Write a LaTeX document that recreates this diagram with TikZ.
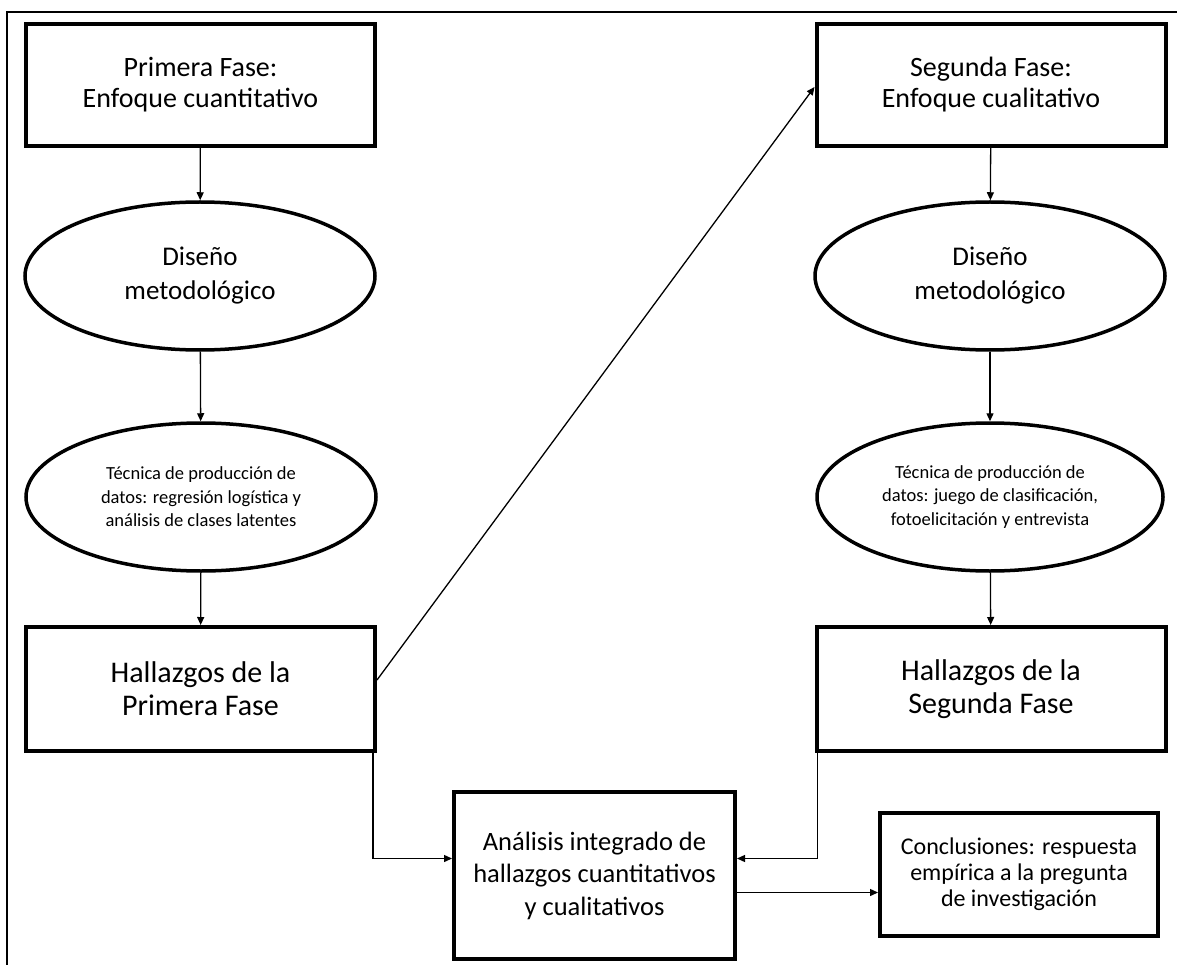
\documentclass[tikz,border=0pt]{standalone}
\usepackage{fontspec}
\setmainfont{Carlito}
\usetikzlibrary{arrows.meta, positioning, shapes.geometric, calc}
\tikzset{
  box/.style    = {draw, line width=4pt, minimum width=349pt, minimum height=122pt,
                   align=center, inner sep=0pt, font=\fontsize{28}{31}\selectfont},
  oval/.style   = {ellipse, draw, line width=3.5pt, minimum width=350pt, minimum height=148pt,
                   align=center, inner sep=0pt, font=\fontsize{27}{34}\selectfont},
  soval/.style  = {oval, font=\fontsize{18.5}{23.5}\selectfont},
  arrow/.style  = {-{Triangle[length=8pt,width=7pt]}, line width=1.3pt},
}

\begin{document}
\begin{tikzpicture}[x=1pt, y=-1pt]
  \useasboundingbox (0,0) rectangle (1177,965);

  % frame
  \draw[line width=2pt] (7,965) -- (7,12) -- (1177,12);

  % first phase
  \node[box] (p1) at (200.5,85) {Primera Fase:\\Enfoque cuantitativo};
  \node[oval] (d1) at (200,276) {Diseño\\metodológico};
  \node[soval] (t1) at (201,497) {Técnica de producción de\\datos: regresión logística y\\análisis de clases latentes};
  \node[box, minimum height=124pt, font=\fontsize{30}{33}\selectfont] (h1) at (200.5,689) {Hallazgos de la\\Primera Fase};

  % second phase
  \node[box] (s2) at (991,85) {Segunda Fase:\\Enfoque cualitativo};
  \node[oval] (d2) at (990,276) {Diseño\\metodológico};
  \node[soval, minimum width=346pt] (t2) at (990,497) {Técnica de producción de\\datos: juego de clasificación,\\fotoelicitación y entrevista};
  \node[box, minimum height=124pt, font=\fontsize{30}{33}\selectfont] (h2) at (991,689) {Hallazgos de la\\Segunda Fase};

  % integration
  \node[box, minimum width=281pt, minimum height=167pt, font=\fontsize{26.5}{32.5}\selectfont] (an) at (594.5,875.5) {Análisis integrado de\\hallazgos cuantitativos\\y cualitativos};
  \node[box, minimum width=278pt, minimum height=123pt, font=\fontsize{24}{26}\selectfont] (co) at (1019,874.5) {Conclusiones: respuesta\\empírica a la pregunta\\de investigación};

  % arrows
  \draw[arrow] (p1) -- (d1);
  \draw[arrow] (d1) -- (t1);
  \draw[arrow] (t1) -- (h1);
  \draw[arrow] (s2) -- (d2);
  \draw[arrow] (d2) -- (t2);
  \draw[arrow] (t2) -- (h2);
  \draw[arrow] ([yshift=9pt]h1.east) -- ([yshift=-2pt]s2.west);
  \draw[arrow] ([xshift=-4pt]h1.south east) |- ([yshift=17pt]an.west);
  \draw[arrow] ([xshift=3pt]h2.south west) |- ([yshift=17pt]an.east);
  \draw[arrow] ([yshift=-17pt]an.east) -- ([yshift=-17pt]an.east -| co.west);
\end{tikzpicture}
\end{document}
